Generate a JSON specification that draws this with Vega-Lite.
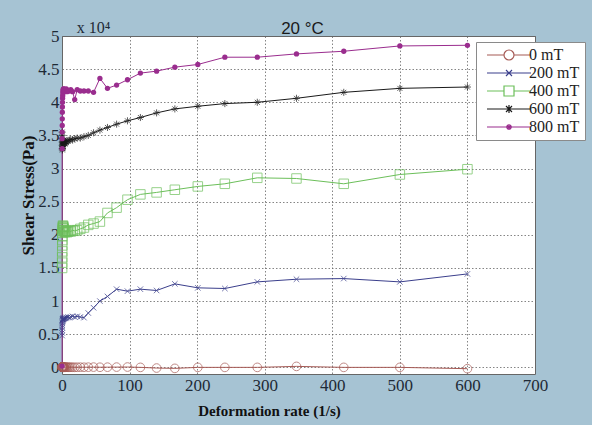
{
  "$schema": "https://vega.github.io/schema/vega-lite/v6.json",
  "width": 473,
  "height": 338,
  "autosize": "none",
  "padding": {"left": 62, "top": 36, "right": 57, "bottom": 51},
  "background": "#a6c3d3",
  "title": {"text": "20 °C", "font": "Liberation Sans", "fontSize": 17, "fontWeight": "normal", "color": "#1a1a1a", "anchor": "middle", "offset": 5, "dx": 4, "dy": 23},
  "config": {
    "view": {"fill": "white", "stroke": "#666666", "strokeWidth": 1},
    "axis": {
      "domain": false, "ticks": false, "grid": true, "gridColor": "#666666", "gridDash": [1.5, 2], "gridWidth": 1, "gridOpacity": 0.8,
      "labelFont": "Liberation Serif", "labelFontSize": 17, "labelColor": "#1e2a36",
      "labelFlush": false, "labelOverlap": false, "labelBound": false,
      "titleFont": "Liberation Serif", "titleFontSize": 15, "titleFontWeight": "bold", "titleColor": "#111111"
    },
    "legend": {
      "padding": 5, "fillColor": "white", "strokeColor": "#8a8a8a",
      "labelFont": "Liberation Serif", "labelFontSize": 16, "labelColor": "#222222",
      "symbolStrokeWidth": 1.2, "rowPadding": 2, "symbolOffset": 20, "labelOffset": 12, "symbolSize": 100, "symbolOpacity": 1, "symbolFillColor": "transparent"
    }
  },
  "data": {"values": [
    {"series":"0 mT","rate":0.2,"stress":0},{"series":"0 mT","rate":0.24,"stress":40},{"series":"0 mT","rate":0.28,"stress":80},{"series":"0 mT","rate":0.34,"stress":60},{"series":"0 mT","rate":0.41,"stress":50},{"series":"0 mT","rate":0.49,"stress":40},{"series":"0 mT","rate":0.59,"stress":30},{"series":"0 mT","rate":0.71,"stress":20},{"series":"0 mT","rate":0.85,"stress":30},{"series":"0 mT","rate":1.02,"stress":40},{"series":"0 mT","rate":1.22,"stress":20},{"series":"0 mT","rate":1.46,"stress":30},{"series":"0 mT","rate":1.76,"stress":20},{"series":"0 mT","rate":2.11,"stress":10},{"series":"0 mT","rate":2.53,"stress":20},{"series":"0 mT","rate":3.03,"stress":30},{"series":"0 mT","rate":3.64,"stress":20},{"series":"0 mT","rate":4.37,"stress":10},{"series":"0 mT","rate":5.24,"stress":20},{"series":"0 mT","rate":6.29,"stress":30},{"series":"0 mT","rate":7.55,"stress":20},{"series":"0 mT","rate":9.06,"stress":10},{"series":"0 mT","rate":10.9,"stress":20},{"series":"0 mT","rate":13,"stress":30},{"series":"0 mT","rate":15.7,"stress":20},{"series":"0 mT","rate":18.8,"stress":10},{"series":"0 mT","rate":22.5,"stress":20},{"series":"0 mT","rate":27.1,"stress":30},{"series":"0 mT","rate":32.5,"stress":20},{"series":"0 mT","rate":38.9,"stress":30},{"series":"0 mT","rate":46.7,"stress":40},{"series":"0 mT","rate":56.1,"stress":20},{"series":"0 mT","rate":67.3,"stress":30},{"series":"0 mT","rate":80.8,"stress":40},{"series":"0 mT","rate":96.9,"stress":50},{"series":"0 mT","rate":116,"stress":0},{"series":"0 mT","rate":140,"stress":-100},{"series":"0 mT","rate":167,"stress":-150},{"series":"0 mT","rate":201,"stress":0},{"series":"0 mT","rate":241,"stress":0},{"series":"0 mT","rate":289,"stress":0},{"series":"0 mT","rate":347,"stress":150},{"series":"0 mT","rate":417,"stress":0},{"series":"0 mT","rate":500,"stress":0},{"series":"0 mT","rate":600,"stress":-200},
    {"series":"200 mT","rate":0.2,"stress":4800},{"series":"200 mT","rate":0.24,"stress":5200},{"series":"200 mT","rate":0.28,"stress":5600},{"series":"200 mT","rate":0.34,"stress":6000},{"series":"200 mT","rate":0.41,"stress":6300},{"series":"200 mT","rate":0.49,"stress":6600},{"series":"200 mT","rate":0.59,"stress":6800},{"series":"200 mT","rate":0.71,"stress":7000},{"series":"200 mT","rate":0.85,"stress":7100},{"series":"200 mT","rate":1.02,"stress":7200},{"series":"200 mT","rate":1.22,"stress":7200},{"series":"200 mT","rate":1.46,"stress":7300},{"series":"200 mT","rate":1.76,"stress":7300},{"series":"200 mT","rate":2.11,"stress":7400},{"series":"200 mT","rate":2.53,"stress":7300},{"series":"200 mT","rate":3.03,"stress":7400},{"series":"200 mT","rate":3.64,"stress":7400},{"series":"200 mT","rate":4.37,"stress":7500},{"series":"200 mT","rate":5.24,"stress":7400},{"series":"200 mT","rate":6.29,"stress":7500},{"series":"200 mT","rate":7.55,"stress":7500},{"series":"200 mT","rate":9.06,"stress":7600},{"series":"200 mT","rate":10.9,"stress":7500},{"series":"200 mT","rate":13,"stress":7600},{"series":"200 mT","rate":15.7,"stress":7700},{"series":"200 mT","rate":18.8,"stress":7600},{"series":"200 mT","rate":22.5,"stress":7700},{"series":"200 mT","rate":27.1,"stress":7600},{"series":"200 mT","rate":32.5,"stress":7500},{"series":"200 mT","rate":38.9,"stress":8200},{"series":"200 mT","rate":46.7,"stress":9000},{"series":"200 mT","rate":56.1,"stress":10000},{"series":"200 mT","rate":67.3,"stress":10700},{"series":"200 mT","rate":80.8,"stress":11800},{"series":"200 mT","rate":96.9,"stress":11500},{"series":"200 mT","rate":116,"stress":11800},{"series":"200 mT","rate":140,"stress":11600},{"series":"200 mT","rate":167,"stress":12600},{"series":"200 mT","rate":201,"stress":12000},{"series":"200 mT","rate":241,"stress":11900},{"series":"200 mT","rate":289,"stress":12900},{"series":"200 mT","rate":347,"stress":13300},{"series":"200 mT","rate":417,"stress":13400},{"series":"200 mT","rate":500,"stress":12900},{"series":"200 mT","rate":600,"stress":14100},
    {"series":"400 mT","rate":0.2,"stress":15000},{"series":"400 mT","rate":0.24,"stress":15800},{"series":"400 mT","rate":0.28,"stress":16600},{"series":"400 mT","rate":0.34,"stress":17500},{"series":"400 mT","rate":0.41,"stress":18400},{"series":"400 mT","rate":0.49,"stress":19200},{"series":"400 mT","rate":0.59,"stress":19800},{"series":"400 mT","rate":0.71,"stress":20300},{"series":"400 mT","rate":0.85,"stress":20700},{"series":"400 mT","rate":1.02,"stress":21000},{"series":"400 mT","rate":1.22,"stress":21200},{"series":"400 mT","rate":1.46,"stress":21400},{"series":"400 mT","rate":1.76,"stress":21300},{"series":"400 mT","rate":2.11,"stress":21100},{"series":"400 mT","rate":2.53,"stress":20900},{"series":"400 mT","rate":3.03,"stress":20700},{"series":"400 mT","rate":3.64,"stress":20500},{"series":"400 mT","rate":4.37,"stress":20400},{"series":"400 mT","rate":5.24,"stress":20500},{"series":"400 mT","rate":6.29,"stress":20600},{"series":"400 mT","rate":7.55,"stress":20400},{"series":"400 mT","rate":9.06,"stress":20500},{"series":"400 mT","rate":10.9,"stress":20600},{"series":"400 mT","rate":13,"stress":20500},{"series":"400 mT","rate":15.7,"stress":20700},{"series":"400 mT","rate":18.8,"stress":20600},{"series":"400 mT","rate":22.5,"stress":20700},{"series":"400 mT","rate":27.1,"stress":20900},{"series":"400 mT","rate":32.5,"stress":21100},{"series":"400 mT","rate":38.9,"stress":21500},{"series":"400 mT","rate":46.7,"stress":21700},{"series":"400 mT","rate":56.1,"stress":22000},{"series":"400 mT","rate":67.3,"stress":23300},{"series":"400 mT","rate":80.8,"stress":24100},{"series":"400 mT","rate":96.9,"stress":25300},{"series":"400 mT","rate":116,"stress":26100},{"series":"400 mT","rate":140,"stress":26400},{"series":"400 mT","rate":167,"stress":26800},{"series":"400 mT","rate":201,"stress":27300},{"series":"400 mT","rate":241,"stress":27700},{"series":"400 mT","rate":289,"stress":28600},{"series":"400 mT","rate":347,"stress":28500},{"series":"400 mT","rate":417,"stress":27700},{"series":"400 mT","rate":500,"stress":29100},{"series":"400 mT","rate":600,"stress":29900},
    {"series":"600 mT","rate":0.2,"stress":35500},{"series":"600 mT","rate":0.24,"stress":35000},{"series":"600 mT","rate":0.28,"stress":34500},{"series":"600 mT","rate":0.34,"stress":34000},{"series":"600 mT","rate":0.41,"stress":33500},{"series":"600 mT","rate":0.49,"stress":33000},{"series":"600 mT","rate":0.59,"stress":32800},{"series":"600 mT","rate":0.71,"stress":33000},{"series":"600 mT","rate":0.85,"stress":33300},{"series":"600 mT","rate":1.02,"stress":33600},{"series":"600 mT","rate":1.22,"stress":33800},{"series":"600 mT","rate":1.46,"stress":34000},{"series":"600 mT","rate":1.76,"stress":34200},{"series":"600 mT","rate":2.11,"stress":34300},{"series":"600 mT","rate":2.53,"stress":34200},{"series":"600 mT","rate":3.03,"stress":34000},{"series":"600 mT","rate":3.64,"stress":33800},{"series":"600 mT","rate":4.37,"stress":33700},{"series":"600 mT","rate":5.24,"stress":33800},{"series":"600 mT","rate":6.29,"stress":34000},{"series":"600 mT","rate":7.55,"stress":34200},{"series":"600 mT","rate":9.06,"stress":34100},{"series":"600 mT","rate":10.9,"stress":34300},{"series":"600 mT","rate":13,"stress":34400},{"series":"600 mT","rate":15.7,"stress":34300},{"series":"600 mT","rate":18.8,"stress":34500},{"series":"600 mT","rate":22.5,"stress":34600},{"series":"600 mT","rate":27.1,"stress":34600},{"series":"600 mT","rate":32.5,"stress":34800},{"series":"600 mT","rate":38.9,"stress":35000},{"series":"600 mT","rate":46.7,"stress":35400},{"series":"600 mT","rate":56.1,"stress":35800},{"series":"600 mT","rate":67.3,"stress":36200},{"series":"600 mT","rate":80.8,"stress":36700},{"series":"600 mT","rate":96.9,"stress":37200},{"series":"600 mT","rate":116,"stress":37700},{"series":"600 mT","rate":140,"stress":38400},{"series":"600 mT","rate":167,"stress":39000},{"series":"600 mT","rate":201,"stress":39400},{"series":"600 mT","rate":241,"stress":39800},{"series":"600 mT","rate":289,"stress":40000},{"series":"600 mT","rate":347,"stress":40600},{"series":"600 mT","rate":417,"stress":41500},{"series":"600 mT","rate":500,"stress":42100},{"series":"600 mT","rate":600,"stress":42300},
    {"series":"800 mT","rate":0.16,"stress":200},{"series":"800 mT","rate":0.2,"stress":33000},{"series":"800 mT","rate":0.24,"stress":34500},{"series":"800 mT","rate":0.28,"stress":35500},{"series":"800 mT","rate":0.34,"stress":36500},{"series":"800 mT","rate":0.41,"stress":37500},{"series":"800 mT","rate":0.49,"stress":38500},{"series":"800 mT","rate":0.59,"stress":39300},{"series":"800 mT","rate":0.71,"stress":40000},{"series":"800 mT","rate":0.85,"stress":40600},{"series":"800 mT","rate":1.02,"stress":41000},{"series":"800 mT","rate":1.22,"stress":41400},{"series":"800 mT","rate":1.46,"stress":41700},{"series":"800 mT","rate":1.76,"stress":41900},{"series":"800 mT","rate":2.11,"stress":42000},{"series":"800 mT","rate":2.53,"stress":41800},{"series":"800 mT","rate":3.03,"stress":42000},{"series":"800 mT","rate":3.64,"stress":41600},{"series":"800 mT","rate":4.37,"stress":41900},{"series":"800 mT","rate":5.24,"stress":41700},{"series":"800 mT","rate":6.29,"stress":42000},{"series":"800 mT","rate":7.55,"stress":41600},{"series":"800 mT","rate":9.06,"stress":41800},{"series":"800 mT","rate":10.9,"stress":41700},{"series":"800 mT","rate":13,"stress":41900},{"series":"800 mT","rate":15.7,"stress":41600},{"series":"800 mT","rate":18.8,"stress":40400},{"series":"800 mT","rate":22.5,"stress":41900},{"series":"800 mT","rate":27.1,"stress":41700},{"series":"800 mT","rate":32.5,"stress":41700},{"series":"800 mT","rate":38.9,"stress":41700},{"series":"800 mT","rate":46.7,"stress":41500},{"series":"800 mT","rate":56.1,"stress":43600},{"series":"800 mT","rate":67.3,"stress":42100},{"series":"800 mT","rate":80.8,"stress":42600},{"series":"800 mT","rate":96.9,"stress":43400},{"series":"800 mT","rate":116,"stress":44400},{"series":"800 mT","rate":140,"stress":44700},{"series":"800 mT","rate":167,"stress":45300},{"series":"800 mT","rate":201,"stress":45700},{"series":"800 mT","rate":241,"stress":46800},{"series":"800 mT","rate":289,"stress":46800},{"series":"800 mT","rate":347,"stress":47300},{"series":"800 mT","rate":417,"stress":47700},{"series":"800 mT","rate":500,"stress":48500},{"series":"800 mT","rate":600,"stress":48600}
  ]},
  "resolve": {"axis": {"x": "independent", "y": "independent"}},
  "layer": [
    {
      "encoding": {
        "x": {"field": "rate", "type": "quantitative", "scale": {"domain": [0, 700], "nice": false, "zero": false},
              "axis": {"values": [0, 100, 200, 300, 400, 500, 600, 700], "title": "Deformation rate (1/s)", "labelPadding": 3, "titleX": 207, "titleY": 41, "titleAlign": "center", "titleBaseline": "alphabetic", "titleAnchor": null}},
        "y": {"field": "stress", "type": "quantitative", "scale": {"domain": [-1000, 50000], "nice": false, "zero": false},
              "axis": {"values": [0, 5000, 10000, 15000, 20000, 25000, 30000, 35000, 40000, 45000, 50000], "labelExpr": "datum.value / 10000", "title": "Shear Stress(Pa)", "titleFontSize": 17, "labelPadding": 3, "titleX": -34, "titleY": 159, "titleAngle": -90, "titleAlign": "center", "titleBaseline": "middle", "titleAnchor": null}}
      },
      "layer": [
        {
          "mark": {"type": "point", "filled": false, "opacity": 0},
          "encoding": {
            "color": {"field": "series", "type": "nominal",
                      "scale": {"domain": ["0 mT", "200 mT", "400 mT", "600 mT", "800 mT"], "range": ["#a65a55", "#3b3f8c", "#6cbf5a", "#1a1a1a", "#9a2d8e"]},
                      "legend": {"title": null, "orient": "none", "legendX": 414, "legendY": 6, "symbolOpacity": 1}},
            "shape": {"field": "series", "type": "nominal",
                      "scale": {"domain": ["0 mT", "200 mT", "400 mT", "600 mT", "800 mT"],
                                "range": ["M-4.4,0H-1M1,0H4.4M-1,0A1,1 0 1,0 1,0A1,1 0 1,0 -1,0",
                                          "M-4.4,0H4.4M-0.6,-0.6L0.6,0.6M-0.6,0.6L0.6,-0.6",
                                          "M-4.4,0H-1M1,0H4.4M-1,-1H1V1H-1Z",
                                          "M-4.4,0H4.4M0,-0.8V0.8M-0.6,-0.6L0.6,0.6M-0.6,0.6L0.6,-0.6",
                                          "M-4.4,0H4.4M-0.45,0A0.45,0.45 0 1,0 0.45,0A0.45,0.45 0 1,0 -0.45,0M-0.2,0A0.2,0.2 0 1,0 0.2,0A0.2,0.2 0 1,0 -0.2,0"]},
                      "legend": {"title": null, "orient": "none", "legendX": 414, "legendY": 6, "symbolOpacity": 1}}
          }
        },
        {
          "mark": {"type": "line", "strokeWidth": 1},
          "encoding": {"color": {"field": "series", "type": "nominal"}}
        },
        {
          "transform": [{"filter": "datum.series === '0 mT'"}],
          "mark": {"type": "point", "shape": "circle", "size": 75, "filled": false, "strokeWidth": 1, "color": "#a65a55"}
        },
        {
          "transform": [{"filter": "datum.series === '200 mT'"}],
          "mark": {"type": "point", "shape": "M-1,-1L1,1M-1,1L1,-1", "size": 30, "filled": false, "strokeWidth": 1, "color": "#3b3f8c"}
        },
        {
          "transform": [{"filter": "datum.series === '400 mT'"}],
          "mark": {"type": "point", "shape": "square", "size": 90, "filled": false, "strokeWidth": 1, "color": "#6cbf5a"}
        },
        {
          "transform": [{"filter": "datum.series === '600 mT'"}],
          "mark": {"type": "point", "shape": "M0,-1V1M-1,0H1M-0.7,-0.7L0.7,0.7M-0.7,0.7L0.7,-0.7", "size": 50, "filled": false, "strokeWidth": 1, "color": "#1a1a1a"}
        },
        {
          "transform": [{"filter": "datum.series === '800 mT'"}],
          "mark": {"type": "point", "shape": "circle", "size": 28, "filled": true, "color": "#9a2d8e", "opacity": 1}
        }
      ]
    },
    {
      "data": {"values": [{"note": "x 10⁴"}]},
      "mark": {"type": "text", "clip": false, "font": "Liberation Serif", "fontSize": 16, "color": "#1e2a36", "align": "left", "baseline": "alphabetic", "dy": -3},
      "encoding": {
        "x": {"datum": 22, "type": "quantitative", "axis": null},
        "y": {"datum": 50000, "type": "quantitative", "axis": null},
        "text": {"field": "note", "type": "nominal"}
      }
    }
  ]
}
